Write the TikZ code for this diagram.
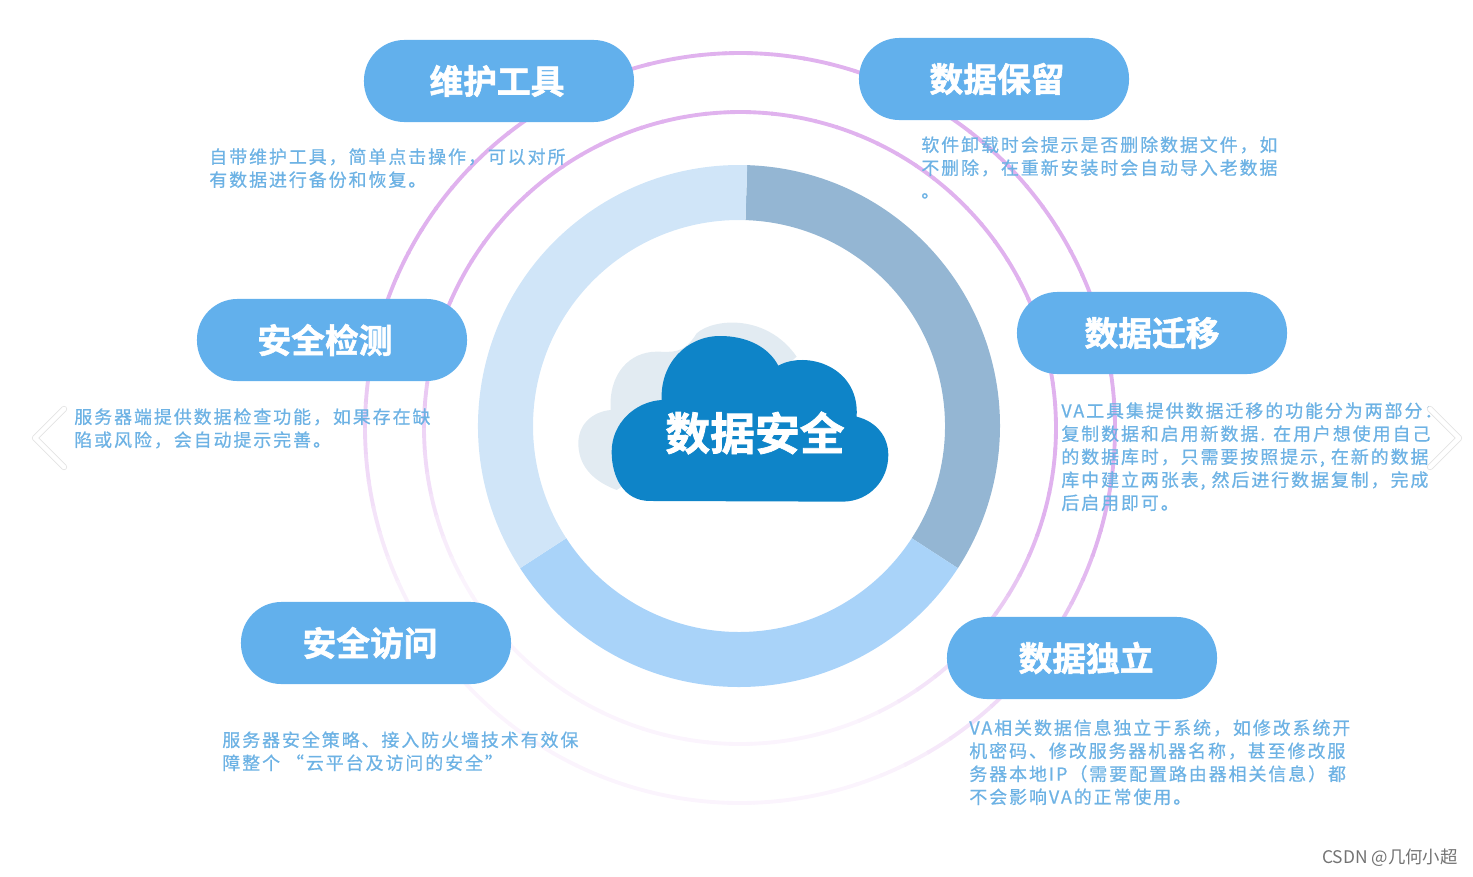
\documentclass[tikz,border=0pt]{standalone}
\usepackage{fontspec}
\setmainfont{Noto Sans CJK SC}
\newfontfamily\titlefont[FakeBold=1.6]{Noto Sans CJK SC Bold}
\newfontfamily\bodyfont[LetterSpace=11,FakeBold=0.7]{Noto Sans CJK SC}
\newfontfamily\markfont{Noto Sans CJK SC}
\usetikzlibrary{positioning}
\definecolor{pillblue}{HTML}{62B0EC}
\definecolor{bodyblue}{HTML}{6DB2E4}
\definecolor{ringpurple}{HTML}{E0B2EE}
\definecolor{clouddark}{HTML}{0E84C8}
\definecolor{cloudback}{HTML}{E2EBF2}
\definecolor{arcdark}{HTML}{94B6D3}
\definecolor{arcmid}{HTML}{A9D3F9}
\definecolor{arcpale}{HTML}{D0E5F8}
\tikzset{
    pill/.style={fill=pillblue, rounded corners=23pt, minimum width=153.7pt, minimum height=46.7pt, inner sep=0pt,
        text=white, font=\fontsize{19.2}{19.2}\titlefont},
    bodytext/.style={text=bodyblue, align=left, anchor=north west, inner sep=0pt,
        font=\fontsize{10.2}{13.1}\bodyfont},
}
\begin{document}
\begin{tikzpicture}[x=0.02cm, y=-0.02cm]
\useasboundingbox (0,0) rectangle (1473,876);

% 外面两个圆环
\foreach \r in {375,316} {
    \foreach \a in {0,4,...,356} {
        \pgfmathsetmacro{\p}{max(14,min(100,95+100*sin(\a)+40*cos(\a)))}
        \draw[line width=2.2pt, color=ringpurple!\p!white] ({740+\r*cos(\a)},{428-\r*sin(\a)}) arc[start angle=-\a, end angle=-\a-4.3, radius=\r];
    }
}

% 中间的环
\foreach \a/\b/\col in {-88.2/33/arcdark, 33/147/arcmid, 147/271.8/arcpale}
    \fill[\col] ({739+261*cos(\a)},{426+261*sin(\a)}) arc[start angle=\a, end angle=\b, radius=261]
        -- ({739+206*cos(\b)},{426+206*sin(\b)}) arc[start angle=\b, end angle=\a, radius=206] -- cycle;

% 云
\begin{scope}[shift={(540,300)}, scale=0.3333]
    \fill[cloudback] (230,570) .. controls (150,540) and (115,490) .. (115,430)
        .. controls (115,370) and (160,335) .. (212,330)
        .. controls (205,220) and (270,155) .. (350,155)
        .. controls (395,155) and (430,165) .. (470,100)
        .. controls (520,55) and (680,40) .. (770,170) -- (500,400) -- cycle;
    \fill[clouddark] (330,603) .. controls (250,603) and (215,530) .. (215,455)
        .. controls (215,370) and (285,305) .. (365,300)
        .. controls (360,190) and (440,108) .. (540,108)
        .. controls (620,108) and (685,140) .. (715,197)
        .. controls (800,150) and (960,200) .. (950,350)
        .. controls (1010,365) and (1045,410) .. (1045,465)
        .. controls (1045,540) and (990,603) .. (910,605) -- cycle;
\end{scope}
\node[text=white, inner sep=0pt, font=\fontsize{25.5}{26}\titlefont] (center) at (755,433) {数据安全};

% 六个标题
\node[pill] (tool) at (499,81) {\hspace*{-2.3pt}维护工具};
\node[pill] (keep) at (994,79) {\hspace*{3.4pt}数据保留};
\node[pill] (move) at (1152,333) {数据迁移};
\node[pill] (alone) at (1082,658) {\hspace*{4.6pt}数据独立};
\node[pill] (visit) at (376,643) {\hspace*{-6.8pt}\raisebox{-1.7pt}{安全访问}};
\node[pill] (check) at (332,340) {\hspace*{-8pt}安全检测};

% 说明文字
\node[bodytext] (tooltext) at (209,148) {自带维护工具，简单点击操作，可以对所\\有数据进行备份和恢复。};
\node[bodytext] (keeptext) at (921,136) {软件卸载时会提示是否删除数据文件，如\\不删除，在重新安装时会自动导入老数据\\。};
\node[bodytext] (movetext) at (1061,402) {VA工具集提供数据迁移的功能分为两部分：\\复制数据和启用新数据. 在用户想使用自己\\的数据库时，只需要按照提示, 在新的数据\\库中建立两张表, 然后进行数据复制，完成\\后启用即可。};
\node[bodytext] (alonetext) at (969,719) {VA相关数据信息独立于系统，如修改系统开\\机密码、修改服务器机器名称，甚至修改服\\务器本地IP（需要配置路由器相关信息）都\\不会影响VA的正常使用。};
\node[bodytext] (visittext) at (222,731) {服务器安全策略、接入防火墙技术有效保\\障整个 “云平台及访问的安全”};
\node[bodytext] (checktext) at (74,408) {服务器端提供数据检查功能，如果存在缺\\陷或风险，会自动提示完善。};

% 两边的箭头
\foreach \x/\d in {35/1, 1459/-1} {
    \draw[line width=3.6pt, color=black!11, line cap=round, line join=round] ({\x+29*\d},409) -- (\x,438) -- ({\x+29*\d},467);
    \draw[line width=2.6pt, color=white, line cap=round, line join=round] ({\x+29*\d},409) -- (\x,438) -- ({\x+29*\d},467);
}

% 水印
\node[anchor=east, inner sep=0pt, text=black!55, font=\fontsize{9.9}{10}\markfont] (mark) at (1458,858) {CSDN @几何小超};
\end{tikzpicture}
\end{document}
